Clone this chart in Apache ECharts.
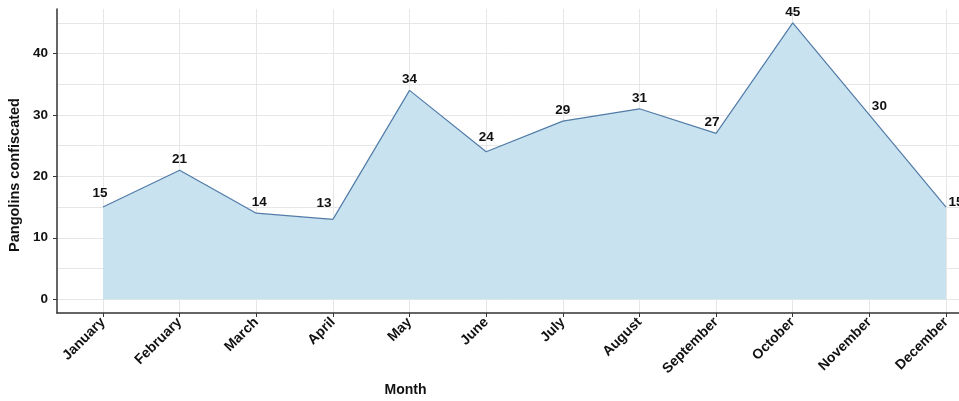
<!DOCTYPE html>
<html>
<head>
<meta charset="utf-8">
<script src="https://cdn.jsdelivr.net/npm/echarts@6/dist/echarts.min.js"></script>
<style>
  html, body { margin: 0; padding: 0; background: #fff; }
  #chart { width: 959px; height: 401px; }
</style>
</head>
<body>
<div id="chart"></div>
<script>
const months = ['January', 'February', 'March', 'April', 'May', 'June',
  'July', 'August', 'September', 'October', 'November', 'December']
const pangolins = [15, 21, 14, 13, 34, 24, 29, 31, 27, 45, 30, 15]
const yTicks = [0, 10, 20, 30, 40]
const yGrid = [0, 5, 10, 15, 20, 25, 30, 35, 40, 45]

// a few labels sit off-centre in the original (repelled labels)
const labelNudge = {
  0: [-3, -3], 2: [3, 0], 3: [-9, -5], 5: [0, -4], 8: [-4, 0], 10: [10, 2], 11: [10, 6]
}

const font = 'Liberation Sans, Arial, sans-serif'
const chart = echarts.init(document.getElementById('chart'))

const monthIdx = months.map((m, i) => i)

chart.setOption({
  animation: false,
  grid: { left: 57, right: -33, top: 9, bottom: 88, outerBoundsMode: 'none', containLabel: false },
  xAxis: {
    type: 'value',
    min: -0.6,
    max: 11.6,
    name: 'Month',
    nameLocation: 'middle',
    nameGap: 68,
    nameTextStyle: { fontFamily: font, fontWeight: 'bold', fontSize: 14, color: '#111', padding: [0, 238, 0, 0] },
    axisLine: { show: true, onZero: false, lineStyle: { color: '#333', width: 1.5 } },
    axisTick: { show: true, customValues: monthIdx, length: 4, lineStyle: { color: '#333' } },
    axisLabel: {
      customValues: monthIdx,
      formatter: v => months[v],
      rotate: 45,
      margin: 7,
      fontFamily: font,
      fontWeight: 'bold',
      fontSize: 14,
      color: '#111'
    },
    splitLine: { show: true, lineStyle: { color: '#e6e6e6', width: 1 } }
  },
  yAxis: [
    {
      type: 'value',
      min: -2.25,
      max: 47.25,
      name: 'Pangolins confiscated',
      nameLocation: 'middle',
      nameGap: 33,
      nameTextStyle: { fontFamily: font, fontWeight: 'bold', fontSize: 14.5, color: '#111', padding: [0, 28, 0, 0] },
      axisLine: { show: true, onZero: false, lineStyle: { color: '#333', width: 1.5 } },
      axisTick: { show: true, customValues: yTicks, length: 4, lineStyle: { color: '#333' } },
      axisLabel: {
        customValues: yTicks,
        margin: 9,
        fontFamily: font,
        fontWeight: 'bold',
        fontSize: 13.5,
        color: '#111'
      },
      splitLine: { show: false }
    },
    {
      type: 'value',
      position: 'left',
      min: -2.25,
      max: 47.25,
      axisLine: { show: false },
      axisTick: { show: false, customValues: yGrid },
      axisLabel: { show: false, customValues: yGrid },
      splitLine: { show: true, lineStyle: { color: '#e6e6e6', width: 1 } }
    }
  ],
  series: [
    {
      type: 'line',
      yAxisIndex: 0,
      data: pangolins.map((v, i) => {
        const item = { value: [i, v] }
        if (labelNudge[i]) item.label = { offset: labelNudge[i] }
        return item
      }),
      symbol: 'circle',
      symbolSize: 0,
      showSymbol: true,
      z: 3,
      lineStyle: { color: '#527ca8', width: 1.2 },
      areaStyle: { color: '#c8e2f0', opacity: 1 },
      label: {
        show: true,
        position: 'top',
        distance: 4,
        formatter: p => p.value[1],
        fontFamily: font,
        fontWeight: 'bold',
        fontSize: 13.5,
        color: '#111'
      }
    }
  ]
})
</script>
</body>
</html>
